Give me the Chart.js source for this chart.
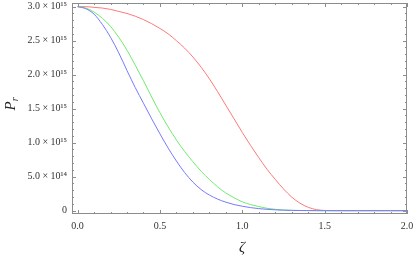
<!DOCTYPE html>
<html>
<head>
<meta charset="utf-8">
<script src="https://cdn.jsdelivr.net/npm/chart.js@4.4.1/dist/chart.umd.min.js"></script>
<style>
  html, body { margin: 0; padding: 0; background: #fff; }
  #chart { display: block; }
</style>
</head>
<body>
<canvas id="chart" width="415" height="259"></canvas>
<script>
// zeta values and P_r curves (units of 10^15)
var zeta = [0.0, 0.05, 0.1, 0.15, 0.2, 0.25, 0.3, 0.35, 0.4, 0.45, 0.5,
            0.55, 0.6, 0.65, 0.7, 0.75, 0.8, 0.85, 0.9, 0.95, 1.0,
            1.05, 1.1, 1.15, 1.2, 1.25, 1.3, 1.35, 1.4, 1.45, 1.5,
            1.55, 1.6, 1.7, 1.8, 1.9, 2.0];
var pBlue  = [3.00, 2.97, 2.89, 2.74, 2.55, 2.32, 2.06, 1.81, 1.58, 1.35, 1.13,
              0.92, 0.73, 0.56, 0.42, 0.31, 0.23, 0.17, 0.125, 0.09, 0.065,
              0.045, 0.03, 0.02, 0.012, 0.007, 0.004, 0.002, 0.001, 0, 0,
              0, 0, 0, 0, 0, 0];
var pGreen = [3.00, 2.98, 2.92, 2.83, 2.71, 2.55, 2.36, 2.14, 1.91, 1.67, 1.44,
              1.23, 1.04, 0.87, 0.72, 0.58, 0.46, 0.35, 0.26, 0.19, 0.13,
              0.09, 0.06, 0.035, 0.02, 0.01, 0.005, 0.003, 0.002, 0.001, 0,
              0, 0, 0, 0, 0, 0];
var pRed   = [3.00, 3.00, 2.99, 2.98, 2.96, 2.93, 2.90, 2.86, 2.81, 2.75, 2.68,
              2.60, 2.50, 2.39, 2.26, 2.11, 1.94, 1.75, 1.55, 1.35, 1.15,
              0.96, 0.78, 0.61, 0.46, 0.32, 0.20, 0.11, 0.05, 0.015, 0.003,
              0, 0, 0, 0, 0, 0];

var xTicks = [0, 0.5, 1.0, 1.5, 2.0];
var xTickLabels = ["0.0", "0.5", "1.0", "1.5", "2.0"];
var yTicks = [0, 0.5, 1.0, 1.5, 2.0, 2.5, 3.0];
var yTickLabels = ["0", "5.0 \u00d7 10\u00b9\u2074", "1.0 \u00d7 10\u00b9\u2075", "1.5 \u00d7 10\u00b9\u2075",
                   "2.0 \u00d7 10\u00b9\u2075", "2.5 \u00d7 10\u00b9\u2075", "3.0 \u00d7 10\u00b9\u2075"];

function toPoints(ys) {
    var pts = [];
    for (var i = 0; i < zeta.length; i++) {
        pts.push({x: zeta[i], y: ys[i]});
    }
    return pts;
}

function makeSet(label, ys, color) {
    return {
        label: label,
        data: toPoints(ys),
        borderColor: color,
        borderWidth: 1,
        pointRadius: 0,
        fill: false,
        cubicInterpolationMode: 'monotone'
    };
}

// frame with inward ticks on all four sides
var framePlugin = {
    id: 'frame',
    beforeDatasetsDraw: function (chart) {
        var ctx = chart.ctx;
        var a = chart.chartArea;
        var xs = chart.scales.x, ys = chart.scales.y;
        ctx.save();
        ctx.strokeStyle = '#8c8c8c';
        ctx.lineWidth = 1;
        ctx.strokeRect(a.left + 0.5, a.top + 0.5, a.right - a.left - 1, a.bottom - a.top - 1);
        ctx.beginPath();
        for (var i = 0; i <= 20; i++) {
            var v = i / 10;
            var px = Math.round(xs.getPixelForValue(v)) + 0.5;
            var len = (i % 5 === 0) ? 4 : 2;
            ctx.moveTo(px, a.bottom); ctx.lineTo(px, a.bottom - len);
            ctx.moveTo(px, a.top); ctx.lineTo(px, a.top + len);
        }
        for (var j = 0; j <= 30; j++) {
            var w = j / 10;
            var py = Math.round(ys.getPixelForValue(w)) + 0.5;
            var l2 = (j % 5 === 0) ? 4 : 2;
            ctx.moveTo(a.left, py); ctx.lineTo(a.left + l2, py);
            ctx.moveTo(a.right, py); ctx.lineTo(a.right - l2, py);
        }
        ctx.stroke();
        ctx.restore();
    },
    afterDraw: function (chart) {
        var ctx = chart.ctx;
        ctx.save();
        ctx.fillStyle = '#222';
        ctx.textBaseline = 'alphabetic';
        // x title
        ctx.font = 'italic 15px "Liberation Serif"';
        ctx.textAlign = 'center';
        ctx.fillText('\u03b6', 242, 252);
        // y title P_r
        ctx.translate(15, 104);
        ctx.rotate(-Math.PI / 2);
        ctx.textAlign = 'left';
        ctx.font = 'italic 15px "Liberation Serif"';
        var wP = ctx.measureText('P').width;
        ctx.font = 'italic 10px "Liberation Serif"';
        var wr = ctx.measureText('r').width;
        var x0 = -(wP + wr) / 2;
        ctx.font = 'italic 15px "Liberation Serif"';
        ctx.fillText('P', x0, 0);
        ctx.font = 'italic 10px "Liberation Serif"';
        ctx.fillText('r', x0 + wP, 3);
        ctx.restore();
    }
};

function makeChart() {
    var canvas = document.getElementById("chart");
    new Chart(canvas, {
        type: 'line',
        data: {
            datasets: [
                makeSet('blue', pBlue, 'rgb(120,120,255)'),
                makeSet('green', pGreen, 'rgb(110,235,110)'),
                makeSet('red', pRed, 'rgb(255,120,120)')
            ]
        },
        options: {
            responsive: false,
            animation: false,
            layout: {padding: {left: 0, right: 8, top: 3, bottom: 0}},
            plugins: {legend: {display: false}, tooltip: {enabled: false}},
            scales: {
                x: {
                    type: 'linear',
                    min: -0.034,
                    max: 2.0,
                    grid: {display: false, drawTicks: false},
                    border: {display: false},
                    afterBuildTicks: function (s) {
                        s.ticks = xTicks.map(function (v) { return {value: v}; });
                    },
                    afterFit: function (s) {
                        s.height = 45;
                        s.paddingLeft = 0; s.paddingRight = 0;
                    },
                    ticks: {
                        padding: 6,
                        maxRotation: 0,
                        autoSkip: false,
                        color: '#333',
                        font: {family: '"Liberation Serif"', size: 10},
                        callback: function (v) {
                            var k = xTicks.indexOf(v);
                            return k >= 0 ? xTickLabels[k] : '';
                        }
                    }
                },
                y: {
                    type: 'linear',
                    min: -0.049,
                    max: 3.054,
                    grid: {display: false, drawTicks: false},
                    border: {display: false},
                    afterBuildTicks: function (s) {
                        s.ticks = yTicks.map(function (v) { return {value: v}; });
                    },
                    afterFit: function (s) {
                        s.width = 72;
                        s.paddingTop = 0; s.paddingBottom = 0;
                    },
                    ticks: {
                        padding: 5,
                        autoSkip: false,
                        color: '#333',
                        font: {family: '"Liberation Serif"', size: 10},
                        callback: function (v) {
                            var k = yTicks.indexOf(v);
                            return k >= 0 ? yTickLabels[k] : '';
                        }
                    }
                }
            }
        },
        plugins: [framePlugin]
    });
}

document.addEventListener('DOMContentLoaded', makeChart);
</script>
</body>
</html>
